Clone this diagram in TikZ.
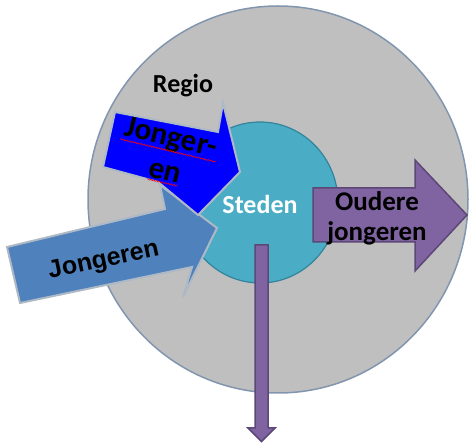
\documentclass[tikz,border=0pt]{standalone}
\usepackage{fontspec}
\setmainfont{Carlito}
\newfontfamily\arialfont{Liberation Sans}
\usetikzlibrary{shapes.geometric,decorations.pathmorphing}
\definecolor{regiofill}{HTML}{BFBFBF}
\definecolor{regioline}{HTML}{8196AE}
\definecolor{stadfill}{HTML}{4BACC6}
\definecolor{stadline}{HTML}{31849B}
\definecolor{brightblue}{HTML}{0000FF}
\definecolor{steelblue}{HTML}{4F81BD}
\definecolor{arrowedge}{HTML}{AEB9C6}
\definecolor{purplefill}{HTML}{8064A2}
\definecolor{purpleline}{HTML}{5C4776}
\tikzset{
  regiostyle/.style={draw=regioline, fill=regiofill, line width=1.5pt, ellipse, inner sep=0pt},
  stadstyle/.style={draw=stadline, fill=stadfill, line width=1.2pt, ellipse, inner sep=0pt},
  blueshape/.style={draw=arrowedge, fill=brightblue, line width=2pt, line join=miter},
  steelshape/.style={draw=arrowedge, fill=steelblue, line width=2pt, line join=miter},
  purpleshape/.style={draw=purpleline, fill=purplefill, line width=1.5pt, line join=miter},
  lbl/.style={font=\bfseries\fontsize{26}{30}\selectfont, text=black, inner sep=0pt},
  spell/.style={draw=red, line width=0.6pt, decorate, decoration={snake, amplitude=0.6pt, segment length=3pt}}
}
\begin{document}
\begin{tikzpicture}[x=1pt,y=-1pt]
\useasboundingbox (0,0) rectangle (469,443);
% Regio circle
\node[regiostyle, minimum width=380pt, minimum height=387pt] (regio) at (278,199.5) {};
% Steden circle
\node[stadstyle, minimum width=156pt, minimum height=161pt] (steden) at (260,202.5) {};
% Oudere jongeren arrow
\draw[purpleshape] (313,188) -- (415,188) -- (415,160) -- (467,215) -- (415,271) -- (415,242) -- (313,242) -- cycle;
% downward arrow
\draw[purpleshape] (255,245) -- (268,245) -- (268,428) -- (275,428) -- (261.5,441.5) -- (248,428) -- (255,428) -- cycle;
% Jongeren arrow (steel blue)
\draw[steelshape] (7,247) -- (165,209) -- (160,185) -- (217,228) -- (183,297) -- (192,267) -- (20,303) -- cycle;
% Jonger-en arrow (bright blue)
\draw[blueshape] (115,112) -- (218,132) -- (223,103) -- (240,172) -- (198,215) -- (158,182) -- (103,167) -- cycle;
% texts
\node[lbl, font=\bfseries\fontsize{26}{30}\selectfont] (regiotext) at (183,86) {Regio};
\node[lbl, text=white, font=\bfseries\fontsize{26}{30}\selectfont] (stedentext) at (260,204) {Steden};
\node[lbl, align=center, font=\bfseries\fontsize{27}{30}\selectfont] (oudtext) at (377,218) {Oudere\\jongeren};
\node[lbl, anchor=base, rotate=-13.5, font=\bfseries\fontsize{31}{32}\selectfont] (jong1) at (169,146) {Jonger-};
\node[lbl, anchor=base, rotate=-13.5, font=\bfseries\fontsize{31}{32}\selectfont] (jong2) at (163,180) {en};
\node[lbl, anchor=base, rotate=12, font=\arialfont\bfseries\fontsize{25}{28}\selectfont] (jongtext) at (105,267) {Jongeren};
% spell-check underlines
\draw[spell] (120,139) -- (216,162);
\draw[spell] (147,179) -- (178,186);
\end{tikzpicture}
\end{document}
